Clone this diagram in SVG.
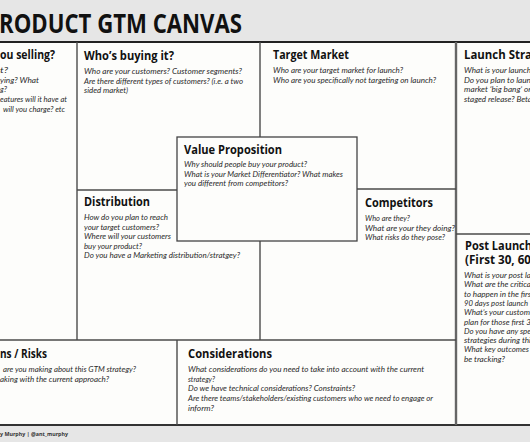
<svg xmlns="http://www.w3.org/2000/svg" width="530" height="442" viewBox="0 0 530 442">
<style>
.h{font-family:"Open Sans","Noto Sans",sans-serif;font-weight:700;font-size:13px;fill:#111}
.h2{font-family:"Open Sans","Noto Sans",sans-serif;font-weight:700;font-size:12.2px;fill:#111}
.b{font-family:Lato,"Open Sans",sans-serif;font-style:italic;font-size:8.4px;fill:#2a2a2a}
.t{font-family:"Open Sans","Noto Sans",sans-serif;font-weight:700;font-size:26px;fill:#111}
.f{font-family:"Open Sans","Noto Sans",sans-serif;font-weight:700;font-size:6px;fill:#333}
.ln{stroke:#4a4a4a;stroke-width:1.4;fill:none}
</style>
<rect x="0" y="0" width="530" height="442" fill="#e6e6e6"/>
<rect x="0" y="42" width="530" height="383" fill="#fdfdfb"/>
<g id="title"><text class="t" x="-1" y="33" textLength="243" lengthAdjust="spacingAndGlyphs">RODUCT GTM CANVAS</text></g>
<g id="grid-lines">
<line x1="0" y1="42" x2="530" y2="42" stroke="#222" stroke-width="2.2"/>
<line x1="0" y1="425" x2="530" y2="425" stroke="#333" stroke-width="2"/>
<line class="ln" x1="77" y1="42" x2="77" y2="340"/>
<line class="ln" x1="260" y1="42" x2="260" y2="137"/>
<line class="ln" x1="260" y1="241" x2="260" y2="340"/>
<line x1="456" y1="42" x2="456" y2="425" stroke="#666" stroke-width="2.4"/>
<line class="ln" x1="77" y1="190" x2="177" y2="190"/>
<line class="ln" x1="357" y1="189" x2="456" y2="189"/>
<line class="ln" x1="456" y1="234" x2="530" y2="234"/>
<line class="ln" x1="0" y1="340" x2="456" y2="340"/>
<line class="ln" x1="177" y1="340" x2="177" y2="425"/>
</g>
<g id="what-selling">
<text class="h" x="0" y="59" textLength="55" lengthAdjust="spacingAndGlyphs">ou selling?</text>
<text class="b" x="0" y="73" textLength="8" lengthAdjust="spacingAndGlyphs">t?</text>
<text class="b" x="0" y="82.7" textLength="39" lengthAdjust="spacingAndGlyphs">ying? What</text>
<text class="b" x="0" y="92.4" textLength="7" lengthAdjust="spacingAndGlyphs">g?</text>
<text class="b" x="0" y="102" textLength="67" lengthAdjust="spacingAndGlyphs">eatures will it have at</text>
<text class="b" x="3" y="111.7" textLength="62" lengthAdjust="spacingAndGlyphs">will you charge? etc</text>
</g>
<g id="whos-buying">
<text class="h" x="84" y="60" textLength="90" lengthAdjust="spacingAndGlyphs">Who’s buying it?</text>
<text class="b" x="84" y="74" textLength="158" lengthAdjust="spacingAndGlyphs">Who are your customers? Customer segments?</text>
<text class="b" x="84" y="83.7" textLength="159" lengthAdjust="spacingAndGlyphs">Are there different types of customers? (i.e. a two</text>
<text class="b" x="84" y="93.4" textLength="44" lengthAdjust="spacingAndGlyphs">sided market)</text>
</g>
<g id="target-market">
<text class="h" x="273" y="59" textLength="76" lengthAdjust="spacingAndGlyphs">Target Market</text>
<text class="b" x="273" y="73" textLength="130" lengthAdjust="spacingAndGlyphs">Who are your target market for launch?</text>
<text class="b" x="273" y="82.5" textLength="163" lengthAdjust="spacingAndGlyphs">Who are you specifically not targeting on launch?</text>
</g>
<g id="launch-strategy">
<text class="h" x="464" y="59" textLength="68" lengthAdjust="spacingAndGlyphs">Launch Stra</text>
<text class="b" x="464" y="73" textLength="67" lengthAdjust="spacingAndGlyphs">What is your launch</text>
<text class="b" x="464" y="82.5" textLength="67" lengthAdjust="spacingAndGlyphs">Do you plan to laun</text>
<text class="b" x="464" y="92" textLength="67" lengthAdjust="spacingAndGlyphs">market ‘big bang’ or</text>
<text class="b" x="464" y="101.5" textLength="68" lengthAdjust="spacingAndGlyphs">staged release? Beta</text>
</g>
<g id="value-proposition">
<rect x="177" y="137" width="180" height="104" fill="#fdfdfb" stroke="#444" stroke-width="1.3"/>
<text class="h" x="184" y="154" textLength="98" lengthAdjust="spacingAndGlyphs">Value Proposition</text>
<text class="b" x="184" y="167" textLength="123" lengthAdjust="spacingAndGlyphs">Why should people buy your product?</text>
<text class="b" x="184" y="176.5" textLength="159" lengthAdjust="spacingAndGlyphs">What is your Market Differentiator? What makes</text>
<text class="b" x="184" y="186" textLength="104" lengthAdjust="spacingAndGlyphs">you different from competitors?</text>
</g>
<g id="distribution">
<text class="h" x="84" y="206" textLength="66" lengthAdjust="spacingAndGlyphs">Distribution</text>
<text class="b" x="84" y="220" textLength="84" lengthAdjust="spacingAndGlyphs">How do you plan to reach</text>
<text class="b" x="84" y="229.6" textLength="75" lengthAdjust="spacingAndGlyphs">your target customers?</text>
<text class="b" x="84" y="239.2" textLength="87" lengthAdjust="spacingAndGlyphs">Where will your customers</text>
<text class="b" x="84" y="248.8" textLength="58" lengthAdjust="spacingAndGlyphs">buy your product?</text>
<text class="b" x="84" y="258.4" textLength="156" lengthAdjust="spacingAndGlyphs">Do you have a Marketing distribution/stratgey?</text>
</g>
<g id="competitors">
<text class="h" x="365" y="207" textLength="68" lengthAdjust="spacingAndGlyphs">Competitors</text>
<text class="b" x="365" y="221" textLength="45" lengthAdjust="spacingAndGlyphs">Who are they?</text>
<text class="b" x="365" y="230.5" textLength="90" lengthAdjust="spacingAndGlyphs">What are your they doing?</text>
<text class="b" x="365" y="240" textLength="80" lengthAdjust="spacingAndGlyphs">What risks do they pose?</text>
</g>
<g id="post-launch">
<text class="h2" x="465" y="249.5" textLength="67" lengthAdjust="spacingAndGlyphs">Post Launch</text>
<text class="h2" x="465" y="264" textLength="66" lengthAdjust="spacingAndGlyphs">(First 30, 60</text>
<text class="b" x="464" y="278" textLength="67" lengthAdjust="spacingAndGlyphs">What is your post la</text>
<text class="b" x="464" y="287.3" textLength="67" lengthAdjust="spacingAndGlyphs">What are the critica</text>
<text class="b" x="464" y="296.6" textLength="67" lengthAdjust="spacingAndGlyphs">to happen in the firs</text>
<text class="b" x="464" y="305.9" textLength="64" lengthAdjust="spacingAndGlyphs">90 days post launch</text>
<text class="b" x="464" y="315.2" textLength="66" lengthAdjust="spacingAndGlyphs">What’s your custom</text>
<text class="b" x="464" y="324.5" textLength="67" lengthAdjust="spacingAndGlyphs">plan for those first 3</text>
<text class="b" x="464" y="333.8" textLength="67" lengthAdjust="spacingAndGlyphs">Do you have any spe</text>
<text class="b" x="464" y="343.1" textLength="67" lengthAdjust="spacingAndGlyphs">strategies during thi</text>
<text class="b" x="464" y="352.4" textLength="65" lengthAdjust="spacingAndGlyphs">What key outcomes</text>
<text class="b" x="464" y="361.7" textLength="41" lengthAdjust="spacingAndGlyphs">be tracking?</text>
</g>
<g id="assumptions-risks">
<text class="h" x="0" y="358" textLength="47" lengthAdjust="spacingAndGlyphs">ns / Risks</text>
<text class="b" x="3" y="372" textLength="133" lengthAdjust="spacingAndGlyphs">are you making about this GTM strategy?</text>
<text class="b" x="0" y="381.7" textLength="109" lengthAdjust="spacingAndGlyphs">aking with the current approach?</text>
</g>
<g id="considerations">
<text class="h" x="188" y="358" textLength="84" lengthAdjust="spacingAndGlyphs">Considerations</text>
<text class="b" x="188" y="372" textLength="236" lengthAdjust="spacingAndGlyphs">What considerations do you need to take into account with the current</text>
<text class="b" x="188" y="381.7" textLength="27" lengthAdjust="spacingAndGlyphs">strategy?</text>
<text class="b" x="188" y="391.4" textLength="167" lengthAdjust="spacingAndGlyphs">Do we have technical considerations? Constraints?</text>
<text class="b" x="188" y="401.1" textLength="245" lengthAdjust="spacingAndGlyphs">Are there teams/stakeholders/existing customers who we need to engage or</text>
<text class="b" x="188" y="410.8" textLength="26" lengthAdjust="spacingAndGlyphs">inform?</text>
</g>
<g id="footer"><text class="f" x="0" y="436" textLength="68" lengthAdjust="spacingAndGlyphs">y Murphy | @ant_murphy</text></g>
</svg>
